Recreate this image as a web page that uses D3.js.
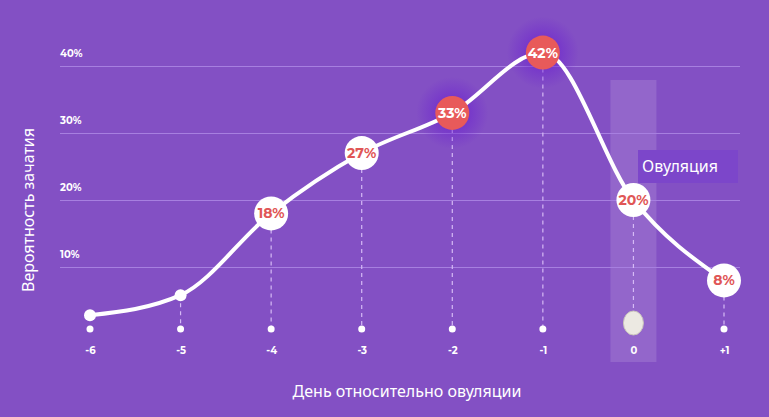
<!DOCTYPE html>
<html><head><meta charset="utf-8">
<script src="https://cdn.jsdelivr.net/npm/d3@7"></script>
<style>
body{margin:0;background:#8350c4;}
text{font-family:Montserrat,"Open Sans",sans-serif;}
</style></head>
<body><div class="chart"></div>
<script>
// данные графика
const days = ['-6','-5','-4','-3','-2','-1','0','+1'];
const values = [2.8, 5.8, 18, 27, 33, 42, 20, 8];
const labels = ['', '', '18%', '27%', '33%', '42%', '20%', '8%'];
const peak = [false, false, false, false, true, true, false, false];
const yTicks = [10, 20, 30, 40];

const W = 769, H = 417;
const svg = d3.select('.chart').append('svg').attr('width', W).attr('height', H);

const defs = svg.append('defs');
const glow = defs.append('radialGradient').attr('id', 'glow');
glow.append('stop').attr('offset', '0%').attr('stop-color', '#6a1fd0').attr('stop-opacity', 0.9);
glow.append('stop').attr('offset', '100%').attr('stop-color', '#6a1fd0').attr('stop-opacity', 0);

svg.append('rect').attr('width', W).attr('height', H).attr('fill', '#8350c4');

const xScale = d3.scalePoint().domain(days).range([90, 724]);
const yScale = d3.scaleLinear().domain([0, 40]).range([334, 66]);

// полоса овуляции
svg.append('rect').attr('x', xScale('0') - 23).attr('y', 80).attr('width', 46).attr('height', 282)
   .attr('fill', '#fff').attr('opacity', 0.13);

// сетка
const yAxis = d3.axisLeft(yScale).tickValues(yTicks).tickSize(-680).tickFormat(d => d + '%');
const yg = svg.append('g').attr('transform', 'translate(60,0)').call(yAxis);
yg.select('.domain').remove();
yg.selectAll('line').attr('stroke', '#a77fe0').attr('stroke-width', 1);
yg.selectAll('text').attr('x', 0).attr('dy', -10).attr('text-anchor', 'start')
  .attr('fill', '#fff').style('font-size', '10px').style('font-weight', 'bold');

// ось X
const xAxis = d3.axisBottom(xScale).tickSize(0);
const xg = svg.append('g').attr('transform', 'translate(0,344)').call(xAxis);
xg.select('.domain').remove();
xg.selectAll('text').attr('fill', '#fff').style('font-size', '10px').style('font-weight', 'bold');

const pts = days.map((d, i) => ({day: d, v: values[i], label: labels[i], peak: peak[i]}));

// пунктир
svg.selectAll('.drop').data(pts.filter(d => d.label)).enter().append('line')
   .attr('x1', d => xScale(d.day)).attr('x2', d => xScale(d.day))
   .attr('y1', d => yScale(d.v)).attr('y2', 329)
   .attr('stroke', '#d5b9f5').attr('stroke-width', 1.2).attr('stroke-dasharray', '4,4');
svg.append('line').attr('x1', xScale('-5')).attr('x2', xScale('-5'))
   .attr('y1', yScale(values[1])).attr('y2', 329)
   .attr('stroke', '#d5b9f5').attr('stroke-width', 1.2).attr('stroke-dasharray', '4,4');

// точки на оси
svg.selectAll('.dot').data(pts.filter(d => d.day !== '0')).enter().append('circle')
   .attr('cx', d => xScale(d.day)).attr('cy', 329).attr('r', 3.5).attr('fill', '#fff');

// яйцеклетка
svg.append('ellipse').attr('cx', xScale('0')).attr('cy', 323).attr('rx', 10).attr('ry', 12)
   .attr('fill', '#ece9e2').attr('stroke', '#c9c4bb');

// свечение вокруг пиков
svg.selectAll('.glow').data(pts.filter(d => d.peak)).enter().append('circle')
   .attr('cx', d => xScale(d.day)).attr('cy', d => yScale(d.v)).attr('r', 36)
   .attr('fill', 'url(#glow)');

// кривая
const line = d3.line().x(d => xScale(d.day)).y(d => yScale(d.v)).curve(d3.curveMonotoneX);
svg.append('path').datum(pts).attr('d', line)
   .attr('fill', 'none').attr('stroke', '#fff').attr('stroke-width', 4);

svg.selectAll('.small').data(pts.filter(d => !d.label)).enter().append('circle')
   .attr('cx', d => xScale(d.day)).attr('cy', d => yScale(d.v)).attr('r', 6).attr('fill', '#fff');

const badges = svg.selectAll('.badge').data(pts.filter(d => d.label)).enter().append('g')
   .attr('transform', d => `translate(${xScale(d.day)},${yScale(d.v)})`);
badges.append('circle').attr('r', 17).attr('fill', d => d.peak ? '#e85a5a' : '#fff');
badges.append('text').text(d => d.label).attr('text-anchor', 'middle').attr('dy', '0.35em')
   .attr('fill', d => d.peak ? '#fff' : '#e05656').style('font-size', '14px').style('font-weight', 'bold');

// подпись овуляции
svg.append('rect').attr('x', 638).attr('y', 150).attr('width', 100).attr('height', 33).attr('fill', '#7c46ca');
svg.append('text').attr('x', 642).attr('y', 172).text('Овуляция')
   .attr('fill', '#fff').style('font-size', '16px').style('font-family', 'Noto Sans');

// заголовки осей
svg.append('text').attr('transform', 'translate(34,210) rotate(-90)').attr('text-anchor', 'middle')
   .text('Вероятность зачатия').attr('fill', '#fff').style('font-size', '16px').style('font-family', 'Noto Sans');
svg.append('text').attr('x', 407).attr('y', 397).attr('text-anchor', 'middle')
   .text('День относительно овуляции').attr('fill', '#fff').style('font-size', '16px').style('font-family', 'Noto Sans');
</script></body></html>
